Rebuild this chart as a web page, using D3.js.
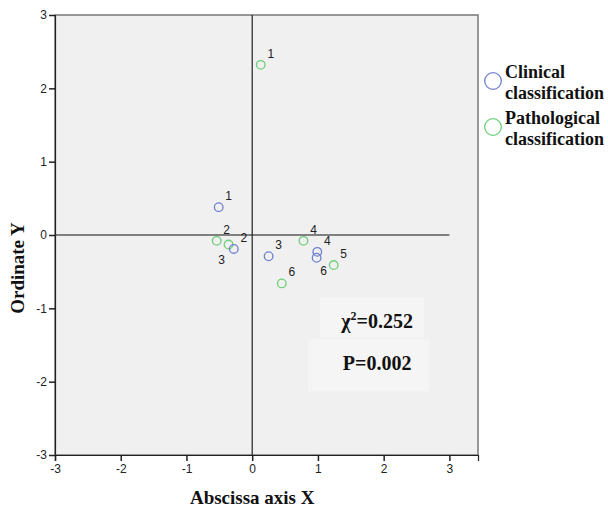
<!DOCTYPE html>
<html lang="en">
<head>
    <meta charset="UTF-8">
    <title>Correspondence plot</title>
    <script src="https://cdnjs.cloudflare.com/ajax/libs/d3/7.8.5/d3.min.js"></script>
    <style>
        body {
            margin: 0;
            background-color: #ffffff;
        }
        .tick text {
            font-family: "Liberation Sans", Arial, sans-serif;
            font-size: 12px;
            fill: #222;
        }
        .serif-bold {
            font-family: "Liberation Serif", "Times New Roman", serif;
            font-weight: bold;
            fill: #111;
        }
        .pt-label {
            font-family: "Liberation Sans", Arial, sans-serif;
            font-size: 12px;
            fill: #222;
        }
    </style>
</head>
<body>
<div id="chart"></div>

<script>
// Clinical classification points
const clinicalLabels = ["1", "2", "3", "4", "6"];
const clinicalX = [-0.51, -0.28, 0.25, 0.99, 0.98];
const clinicalY = [0.38, -0.19, -0.29, -0.23, -0.31];
const clinicalPlace = ["ur", "ur", "ur", "ur", "br"];

// Pathological classification points
const pathLabels = ["1", "2", "3", "4", "5", "6"];
const pathX = [0.13, -0.54, -0.36, 0.78, 1.24, 0.45];
const pathY = [2.32, -0.08, -0.13, -0.08, -0.41, -0.66];
const pathPlace = ["ur", "ur", "bl", "ur", "ur", "ur"];

const xTicks = [-3, -2, -1, 0, 1, 2, 3];
const yTicks = [-3, -2, -1, 0, 1, 2, 3];
const legendNames = [["Clinical", "classification"], ["Pathological", "classification"]];
const statLines = ["χ²=0.252", "P=0.002"];

const W = 608, H = 513;
const margin = { top: 15, left: 55, right: 130, bottom: 58 };

const x = d3.scaleLinear().domain([-3, 3.435]).range([margin.left, W - margin.right]);
const y = d3.scaleLinear().domain([-3, 3]).range([H - margin.bottom, margin.top]);

const colors = { clinical: "#6f7fd0", path: "#6ccf7a" };

const svg = d3.select("#chart").append("svg")
    .attr("width", W)
    .attr("height", H);

// plot background
svg.append("rect")
    .attr("x", x(-3)).attr("y", y(3))
    .attr("width", x(3.435) - x(-3))
    .attr("height", y(-3) - y(3))
    .attr("fill", "#f0f0f0")
    .attr("stroke", "#777")
    .attr("stroke-width", 1.5);

// stats boxes
const statBoxes = [
    { x0: 1.03, x1: 2.61, y0: -0.85, y1: -1.4 },
    { x0: 0.85, x1: 2.69, y0: -1.42, y1: -2.13 }
];
statBoxes.forEach(b => {
    svg.append("rect")
        .attr("x", x(b.x0)).attr("y", y(b.y0))
        .attr("width", x(b.x1) - x(b.x0))
        .attr("height", y(b.y1) - y(b.y0))
        .attr("fill", "#f5f5f5");
});

svg.append("text")
    .attr("class", "serif-bold")
    .attr("x", x(1.9)).attr("y", y(-1.27))
    .attr("text-anchor", "middle")
    .attr("font-size", 20)
    .html('χ<tspan dy="-8" font-size="12">2</tspan><tspan dy="8">=0.252</tspan>');

svg.append("text")
    .attr("class", "serif-bold")
    .attr("x", x(1.9)).attr("y", y(-1.84))
    .attr("text-anchor", "middle")
    .attr("font-size", 20)
    .text(statLines[1]);

// reference lines
svg.append("line")
    .attr("x1", x(-3)).attr("x2", x(3))
    .attr("y1", y(0)).attr("y2", y(0))
    .attr("stroke", "#808080")
    .attr("stroke-width", 2);

svg.append("line")
    .attr("x1", x(0)).attr("x2", x(0))
    .attr("y1", y(3)).attr("y2", y(-3))
    .attr("stroke", "#222")
    .attr("stroke-width", 1.2);

// axes
const fmt = d => String(d);

const xAxis = svg.append("g")
    .attr("transform", `translate(0,${y(-3)})`)
    .call(d3.axisBottom(x).tickValues(xTicks).tickFormat(fmt).tickSize(6).tickPadding(3));
xAxis.select(".domain").attr("stroke", "#222").attr("stroke-width", 1.2);
xAxis.selectAll(".tick line").attr("stroke", "#222").attr("stroke-width", 1.5);

const yAxis = svg.append("g")
    .attr("transform", `translate(${x(-3)},0)`)
    .call(d3.axisLeft(y).tickValues(yTicks).tickFormat(fmt).tickSize(6).tickPadding(2));
yAxis.select(".domain").attr("stroke", "#222").attr("stroke-width", 1.2);
yAxis.selectAll(".tick line").attr("stroke", "#222").attr("stroke-width", 1.5);

// axis titles
svg.append("text")
    .attr("class", "serif-bold")
    .attr("x", x(0)).attr("y", 504)
    .attr("text-anchor", "middle")
    .attr("font-size", 19)
    .text("Abscissa axis X");

svg.append("text")
    .attr("class", "serif-bold")
    .attr("transform", "translate(24,268) rotate(-90)")
    .attr("text-anchor", "middle")
    .attr("font-size", 19)
    .text("Ordinate Y");

// points
const offsets = { ur: [10, -7], bl: [-7, 19], br: [7, 17] };

function drawSeries(xs, ys, labels, places, color) {
    const data = xs.map((v, i) => ({ x: v, y: ys[i], label: labels[i], place: places[i] }));
    const g = svg.append("g");
    g.selectAll("circle").data(data).enter().append("circle")
        .attr("cx", d => x(d.x))
        .attr("cy", d => y(d.y))
        .attr("r", 4.3)
        .attr("fill", "none")
        .attr("stroke", color)
        .attr("stroke-width", 1.3);
    g.selectAll("text").data(data).enter().append("text")
        .attr("class", "pt-label")
        .attr("x", d => x(d.x) + offsets[d.place][0])
        .attr("y", d => y(d.y) + offsets[d.place][1])
        .attr("text-anchor", "middle")
        .text(d => d.label);
}

drawSeries(pathX, pathY, pathLabels, pathPlace, colors.path);
drawSeries(clinicalX, clinicalY, clinicalLabels, clinicalPlace, colors.clinical);

// legend
const legendColors = [colors.clinical, colors.path];
legendNames.forEach((lines, i) => {
    const cy = 81 + i * 46;
    svg.append("circle")
        .attr("cx", 493).attr("cy", cy)
        .attr("r", 8.3)
        .attr("fill", "none")
        .attr("stroke", legendColors[i])
        .attr("stroke-width", 1.3);
    const t = svg.append("text")
        .attr("class", "serif-bold")
        .attr("font-size", 18)
        .attr("x", 505).attr("y", cy - 3);
    lines.forEach((ln, j) => {
        t.append("tspan")
            .attr("x", 505)
            .attr("dy", j === 0 ? 0 : 21)
            .text(ln);
    });
});
</script>
</body>
</html>
